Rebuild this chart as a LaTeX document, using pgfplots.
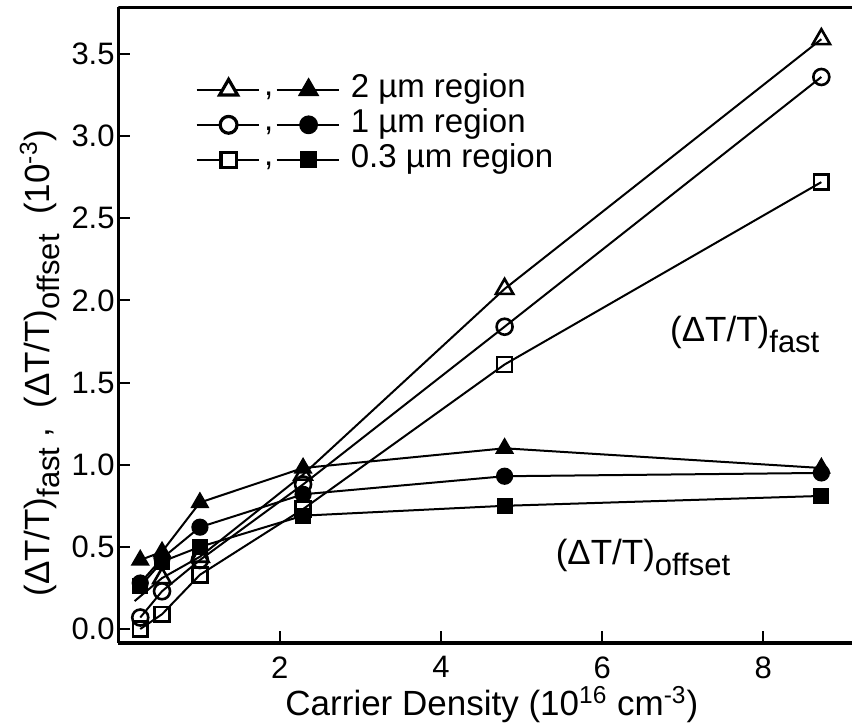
\documentclass[border=0pt]{standalone}
\usepackage{pgfplots}
\pgfplotsset{compat=1.18}
\usepackage{fontspec}
\setmainfont{Liberation Sans}
\newcommand{\sub}[1]{\raisebox{-0.3em}{\fontsize{15.5}{15.5}\selectfont #1}}
\begin{document}
\begin{tikzpicture}
\begin{axis}[
  scale only axis, width=366.75pt, height=318pt,
  xmin=0, xmax=9.10, ymin=-0.085, ymax=3.786,
  axis x line*=bottom, axis y line*=left,
  x axis line style={-, line width=1.6pt},
  y axis line style={-, line width=1.6pt},
  tick align=inside,
  major tick length=6pt,
  every tick/.style={black, line width=1pt},
  xtick={2,4,6,8}, ytick={0,0.5,1,1.5,2,2.5,3,3.5},
  minor tick num=0,
  /pgf/number format/assume math mode=true,
  yticklabel style={/pgf/number format/fixed, /pgf/number format/fixed zerofill, /pgf/number format/precision=1, inner sep=0pt, xshift=-1.75pt, font=\fontsize{15.5}{15.5}\selectfont},
  xticklabel style={inner sep=0pt, yshift=-6.5pt, font=\fontsize{15.5}{15.5}\selectfont},
  xlabel={Carrier Density (10\textsuperscript{16} cm\textsuperscript{-3})},
  xlabel style={at={(axis description cs:0.509,-0.097)}, anchor=center, font=\fontsize{17.5}{17.5}\selectfont},
  ylabel={(ΔT/T)\sub{fast} ,\ \ (ΔT/T)\sub{offset}\ \ (10\textsuperscript{-3})},
  ylabel style={at={(axis description cs:-0.107,0.44)}, anchor=center, font=\fontsize{17.5}{17.5}\selectfont},
  legend style={at={(axis description cs:0.1043,0.894)}, anchor=north west, draw=none, fill=none, inner sep=0pt, row sep=2.5pt, column sep=5.5pt, font=\fontsize{16.5}{16.5}\selectfont, nodes={inner sep=0pt, text height=11.5pt, text depth=3.5pt}},
  legend cell align=left,
  every axis plot/.append style={line width=1pt, black},
]
% fast (open symbols)
\addplot[forget plot, mark=triangle, mark size=5pt, mark options={fill=white, line width=1.3pt}, mark indices={2,3,4,5,6}] coordinates {
  (0.20,0.17) (0.54,0.31) (1.01,0.44) (2.29,0.94) (4.79,2.07) (8.72,3.59)};
\addplot[forget plot, mark=o, mark size=4pt, mark options={fill=white, line width=1.3pt}] coordinates {
  (0.27,0.07) (0.54,0.23) (1.01,0.42) (2.29,0.88) (4.79,1.84) (8.72,3.36)};
\addplot[forget plot, mark=square, mark size=3.7pt, mark options={fill=white, line width=1.3pt}] coordinates {
  (0.27,0.00) (0.54,0.09) (1.01,0.33) (2.29,0.73) (4.79,1.61) (8.72,2.72)};
% offset (filled symbols)
\addplot[forget plot, mark=triangle*, mark size=4.5pt] coordinates {
  (0.27,0.42) (0.54,0.47) (1.01,0.77) (2.29,0.98) (4.79,1.10) (8.72,0.98)};
\addplot[forget plot, mark=*, mark size=3.8pt] coordinates {
  (0.27,0.28) (0.54,0.43) (1.01,0.62) (2.29,0.82) (4.79,0.93) (8.72,0.95)};
\addplot[forget plot, mark=square*, mark size=3.5pt] coordinates {
  (0.27,0.26) (0.54,0.41) (1.01,0.50) (2.29,0.69) (4.79,0.75) (8.72,0.81)};

\addlegendimage{legend image code/.code={
  \draw[line width=1.2pt] (0pt,0pt) -- (31pt,0pt);
  \draw[line width=1.6pt, fill=white] plot[mark=triangle*, mark size=5.2pt, mark options={fill=white}] coordinates {(16pt,0pt)};
  \node[inner sep=0pt, anchor=base, text height=, text depth=] at (36pt,-3pt) {,};
  \draw[line width=1.2pt] (40pt,0pt) -- (71pt,0pt);
  \fill plot[mark=triangle*, mark size=5.2pt] coordinates {(56pt,0pt)};
}}
\addlegendentry{2 µm region}
\addlegendimage{legend image code/.code={
  \draw[line width=1.2pt] (0pt,0pt) -- (31pt,0pt);
  \draw[line width=1.6pt, fill=white] plot[mark=*, mark size=4.2pt, mark options={fill=white}] coordinates {(16pt,0pt)};
  \node[inner sep=0pt, anchor=base, text height=, text depth=] at (36pt,-3pt) {,};
  \draw[line width=1.2pt] (40pt,0pt) -- (71pt,0pt);
  \fill plot[mark=*, mark size=4.2pt] coordinates {(56pt,0pt)};
}}
\addlegendentry{1 µm region}
\addlegendimage{legend image code/.code={
  \draw[line width=1.2pt] (0pt,0pt) -- (31pt,0pt);
  \draw[line width=1.6pt, fill=white] plot[mark=square*, mark size=3.8pt, mark options={fill=white}] coordinates {(16pt,0pt)};
  \node[inner sep=0pt, anchor=base, text height=, text depth=] at (36pt,-3pt) {,};
  \draw[line width=1.2pt] (40pt,0pt) -- (71pt,0pt);
  \fill plot[mark=square*, mark size=3.8pt] coordinates {(56pt,0pt)};
}}
\addlegendentry{0.3 µm region}

\draw[line width=1.6pt, line cap=rect] (rel axis cs:0,1) -- (rel axis cs:1.01,1);
\node[anchor=base east, inner sep=0pt, font=\fontsize{17.5}{17.5}\selectfont] at (axis cs:8.70,1.75) {(ΔT/T)\sub{fast}};
\node[anchor=base west, inner sep=0pt, font=\fontsize{17.5}{17.5}\selectfont] at (axis cs:5.42,0.39) {(ΔT/T)\sub{offset}};
\end{axis}
\pgfresetboundingbox
\path (-59.25pt,-41.5pt) rectangle (366.75pt,321.5pt);
\end{tikzpicture}
\end{document}
